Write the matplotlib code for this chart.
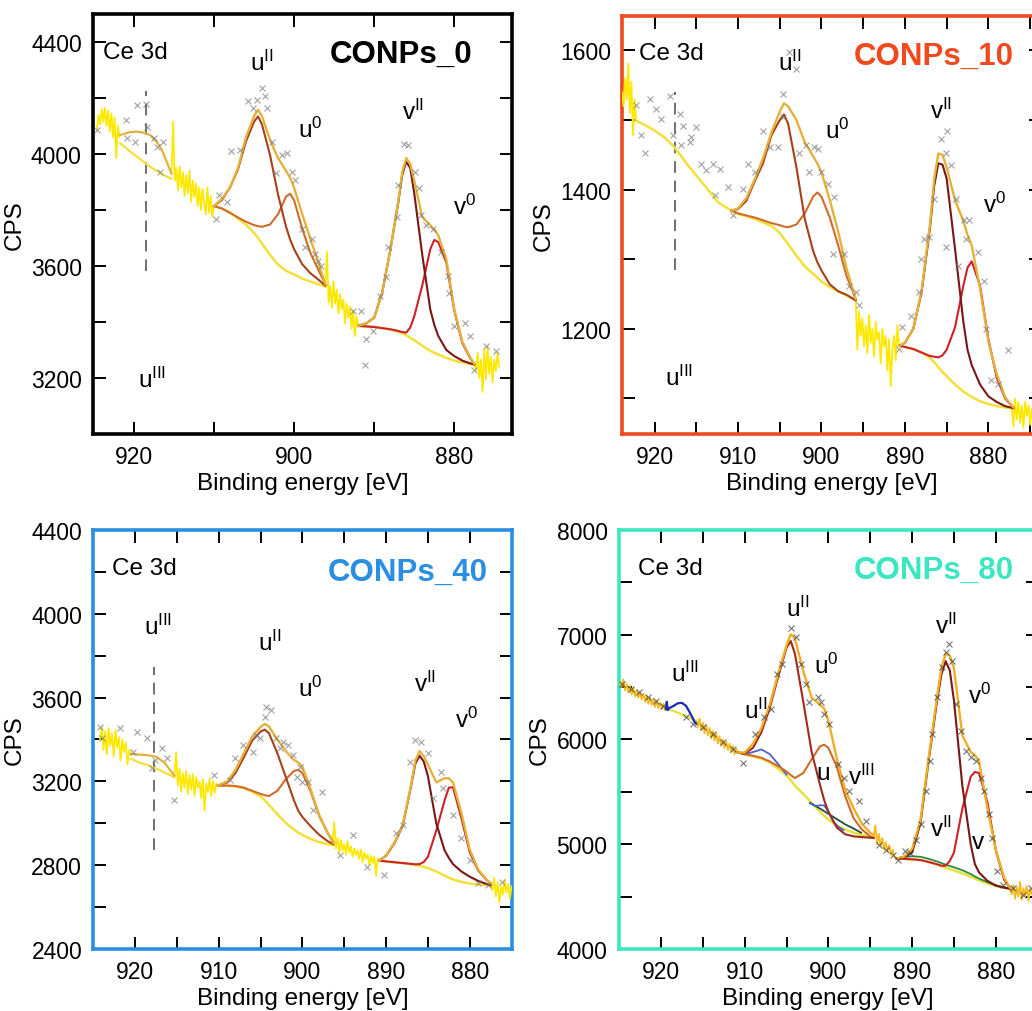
import matplotlib
matplotlib.use('Agg')
import matplotlib.pyplot as plt
from matplotlib.ticker import MultipleLocator
import numpy as np

plt.rcParams['font.family'] = 'Liberation Sans'
plt.rcParams['mathtext.fontset'] = 'custom'
plt.rcParams['mathtext.rm'] = 'Liberation Sans'
plt.rcParams['mathtext.it'] = 'Liberation Sans:italic'
plt.rcParams['mathtext.bf'] = 'Liberation Sans:bold'

# ---------------- CONPs_0 ----------------
p0_rawA = [4090, 4140, 4105, 4160, 4115, 4165, 4100, 4155, 4080, 4145, 4060, 4130, 3985, 4100, 4062]
p0_rawB = [3930, 4115, 3905, 3950, 3870, 3955, 3880, 3935, 3850, 3925, 3860, 3940, 3830, 3905,
           3845, 3895, 3815, 3880, 3800, 3875, 3825, 3785, 3880, 3790, 3850, 3775, 3814]
p0_rawC = [3527, 3650, 3470, 3530, 3450, 3545, 3465, 3515, 3430, 3500, 3445, 3480, 3395, 3465,
           3415, 3455, 3375, 3440, 3350, 3420, 3386]
p0_rawD = [3248, 3225, 3290, 3200, 3265, 3150, 3300, 3195, 3310, 3215, 3275, 3185, 3265, 3225, 3290, 3240]
p0_raw_lims = [(924.6, 921.8), (915.3, 910.0), (896.1, 892.0), (877.5, 874.4)]

p0_e3 = [921.7, 920.5, 919.6, 918.8, 918.0, 917.2, 916.5, 915.8, 915.3]
p0_env3 = [4068, 4078, 4080, 4076, 4068, 4045, 4015, 3965, 3930]
p0_bg3 = [4038, 4010, 3990, 3972, 3955, 3940, 3928, 3918, 3912]

p0_eu = [910, 909, 908, 907, 906, 905, 904.5, 904, 903, 902, 901, 900.5, 900, 899, 898, 897, 896.1]
p0_bgu = [3814, 3805, 3790, 3770, 3747, 3718, 3700, 3680, 3640, 3605, 3583, 3576, 3570, 3555, 3545, 3535, 3527]
p0_u2 = [3814, 3836, 3880, 3945, 4045, 4115, 4134, 4105, 3996, 3855, 3740, 3695, 3660, 3607, 3575, 3552, 3530]
p0_u0 = [3814, 3805, 3790, 3773, 3758, 3746, 3742, 3740, 3748, 3785, 3848, 3858, 3835, 3735, 3649, 3588, 3535]
p0_envu = [3814, 3840, 3880, 3950, 4060, 4135, 4158, 4135, 4050, 3985, 3940, 3915, 3880, 3787, 3700, 3615, 3535]

p0_ev = [892, 891, 890, 889, 888, 887, 886.5, 886, 885.5, 885, 884, 883, 882.5, 882, 881, 880, 879, 878, 877.5]
p0_bgv = [3386, 3384, 3382, 3378, 3373, 3365, 3360, 3353, 3343, 3335, 3315, 3297, 3290, 3284, 3272, 3262, 3255, 3250, 3248]
p0_v2 = [3386, 3395, 3415, 3505, 3655, 3825, 3925, 3972, 3950, 3860, 3640, 3445, 3390, 3350, 3300, 3278, 3262, 3252, 3248]
p0_v0 = [3386, 3384, 3382, 3378, 3374, 3368, 3364, 3362, 3380, 3420, 3530, 3660, 3693, 3685, 3613, 3440, 3325, 3270, 3250]
p0_envv = [3386, 3395, 3415, 3505, 3655, 3830, 3935, 3985, 3965, 3905, 3775, 3745, 3730, 3710, 3625, 3445, 3330, 3272, 3250]

p0_mx = [924.6, 921.0, 919.6, 918.5, 918.3, 920.8, 919.8, 917.5, 917.1, 916.3, 916.7, 909.7, 909.4, 908.4,
         907.9, 906.7, 905.7, 905.1, 904.6, 904.0, 903.6, 903.4, 902.8, 902.2, 901.5, 900.9, 900.3, 899.9,
         899.05, 898.6, 897.8, 897.4, 897.0, 896.6, 892.6, 891.6, 891.0, 891.2, 890.1, 889.3, 888.5, 888.3,
         887.2, 887.0, 886.3, 885.8, 884.9, 884.4, 884.1, 883.5, 882.7, 881.6, 880.8, 880.6, 880.0, 878.7,
         878.1, 877.5, 876.0, 874.8]
p0_my = [4086, 4122, 4176, 4178, 4098, 4056, 4044, 4056, 4026, 4042, 3937, 3769, 3853, 3829, 4011, 4014,
         4190, 4164, 4194, 4236, 4206, 4164, 4044, 3931, 3996, 4002, 3937, 3907, 3733, 3667, 3697, 3643,
         3619, 3601, 3440, 3440, 3338, 3248, 3368, 3493, 3559, 3667, 3775, 3889, 4036, 4032, 3937, 3877,
         3781, 3745, 3733, 3649, 3565, 3505, 3386, 3398, 3350, 3230, 3314, 3296]
p0_dash = (918.5, 3583, 4225)

# ---------------- CONPs_10 ----------------
p1_rawA = [1540, 1520, 1560, 1530, 1581, 1510, 1555, 1478, 1530, 1499]
p1_rawC = [1241, 1170, 1225, 1190, 1215, 1175, 1205, 1165, 1220, 1180, 1200, 1160, 1210, 1185,
           1195, 1150, 1200, 1175, 1190, 1140, 1185, 1118, 1170, 1190, 1155, 1205, 1176]
p1_rawD = [1087, 1060, 1100, 1070, 1095, 1065, 1090, 1058, 1095, 1075, 1090, 1062, 1085, 1070, 1095, 1068, 1080]
p1_raw_lims = [(923.9, 922.2), (895.9, 890.7), (877.2, 874.0)]

p1_e3 = [922.2, 921, 920, 918.8, 917.6, 916, 914, 912.4, 910.8]
p1_bg3 = [1499, 1492, 1485, 1475, 1461, 1435, 1406, 1382, 1370]

p1_eu = [910.8, 910, 909, 908, 907, 906, 905, 904.5, 904, 903, 902, 901, 900.5, 900, 899, 898, 897, 895.9]
p1_bgu = [1370, 1365, 1362, 1358, 1353, 1348, 1338, 1330, 1322, 1305, 1290, 1279, 1274, 1268, 1260, 1254, 1248, 1241]
p1_u2 = [1370, 1372, 1384, 1412, 1438, 1478, 1500, 1508, 1495, 1432, 1358, 1312, 1296, 1284, 1264, 1254, 1249, 1241]
p1_u0 = [1370, 1366, 1363, 1360, 1356, 1352, 1349, 1347, 1346, 1350, 1366, 1390, 1396, 1390, 1360, 1320, 1276, 1243]
p1_envu = [1370, 1373, 1388, 1415, 1445, 1482, 1512, 1524, 1520, 1500, 1468, 1448, 1438, 1425, 1385, 1340, 1287, 1243]

p1_ev = [890.6, 890, 889, 888, 887, 886.5, 886, 885.5, 885, 884, 883, 882.5, 882, 881, 880, 879, 878, 877]
p1_bgv = [1176, 1174, 1171, 1166, 1158, 1152, 1145, 1138, 1132, 1120, 1110, 1106, 1102, 1096, 1092, 1089, 1087, 1086]
p1_v2 = [1176, 1180, 1200, 1253, 1345, 1405, 1438, 1436, 1416, 1315, 1210, 1170, 1148, 1120, 1103, 1095, 1089, 1086]
p1_v0 = [1176, 1174, 1171, 1166, 1161, 1160, 1159, 1162, 1170, 1202, 1262, 1288, 1297, 1262, 1185, 1130, 1100, 1087]
p1_envv = [1176, 1180, 1200, 1255, 1350, 1415, 1452, 1450, 1432, 1385, 1355, 1335, 1320, 1258, 1182, 1135, 1102, 1087]

p1_mx = [922.2, 921.6, 920.6, 921.2, 919.8, 919.2, 918.2, 917.8, 917.0, 916.6, 915.8, 915.6, 915.0, 916.8,
         914.4, 913.8, 913.0, 912.8, 912.2, 911.2, 910.6, 909.4, 908.8, 908.0, 907.0, 906.2, 905.2, 904.6,
         904.6, 903.9, 903.05, 902.65, 901.85, 901.45, 900.85, 900.45, 900.05, 899.25, 898.45, 898.65, 897.3,
         896.7, 895.9, 895.5, 890.7, 890.3, 889.3, 888.3, 888.1, 887.7, 887.1, 886.5, 885.7, 884.9, 885.1,
         884.5, 885.1, 883.9, 883.7, 882.9, 882.3, 882.7, 881.3, 880.5, 880.3, 879.7, 878.9, 877.7]
p1_my = [1521, 1478, 1531, 1452, 1516, 1502, 1535, 1478, 1509, 1492, 1468, 1475, 1490, 1464, 1437, 1428,
         1437, 1392, 1430, 1404, 1363, 1401, 1437, 1425, 1485, 1461, 1461, 1538, 1504, 1598, 1574, 1452,
         1464, 1425, 1461, 1459, 1425, 1408, 1389, 1308, 1308, 1262, 1253, 1234, 1171, 1202, 1219, 1253,
         1301, 1329, 1332, 1387, 1473, 1485, 1452, 1435, 1317, 1387, 1291, 1356, 1356, 1329, 1310, 1269,
         1200, 1126, 1121, 1169]
p1_dash = (917.5, 1284, 1540)

# ---------------- CONPs_40 ----------------
p2_rawA = [3400, 3460, 3350, 3440, 3330, 3455, 3370, 3430, 3320, 3445, 3360, 3410, 3300, 3400, 3340,
           3385, 3280, 3350, 3331]
p2_rawB = [3227, 3339, 3180, 3260, 3150, 3240, 3170, 3250, 3140, 3230, 3160, 3235, 3130, 3220, 3170,
           3200, 3120, 3210, 3060, 3190, 3150, 3215, 3130, 3200, 3145, 3190, 3180]
p2_rawC = [2909, 3005, 2880, 2930, 2860, 2920, 2870, 2900, 2850, 2915, 2860, 2890, 2840, 2880, 2850,
           2870, 2830, 2875, 2815, 2860, 2830, 2850, 2800, 2845, 2810, 2840, 2750, 2830, 2822]
p2_rawD = [2706, 2680, 2740, 2650, 2720, 2625, 2700, 2660, 2730, 2670, 2710, 2640, 2700]
p2_raw_lims = [(924.2, 920.5), (915.3, 910.1), (896.4, 890.8), (877.5, 875.0)]

p2_e3 = [920.5, 919.5, 918.5, 917.5, 916.5, 915.3]
p2_env3 = [3331, 3328, 3325, 3318, 3290, 3227]
p2_bg3 = [3308, 3290, 3278, 3262, 3242, 3220]

p2_eu = [910.1, 909, 908, 907, 906, 905, 904.5, 904, 903, 902, 901, 900.5, 900, 899, 898, 897, 896.3]
p2_bgu = [3180, 3179, 3176, 3167, 3150, 3128, 3110, 3088, 3043, 3002, 2970, 2955, 2944, 2925, 2910, 2900, 2895]
p2_u2 = [3180, 3195, 3240, 3315, 3395, 3438, 3447, 3430, 3335, 3222, 3108, 3060, 3030, 2985, 2945, 2915, 2900]
p2_u0 = [3180, 3180, 3178, 3170, 3155, 3140, 3134, 3130, 3155, 3210, 3250, 3255, 3240, 3150, 3035, 2955, 2910]
p2_envu = [3180, 3200, 3255, 3335, 3415, 3460, 3474, 3462, 3400, 3345, 3302, 3290, 3270, 3160, 3040, 2955, 2905]

p2_ev = [890.8, 890, 889, 888, 887, 886.5, 886, 885.5, 885, 884, 883, 882.5, 882, 881, 880, 879, 878, 877.5]
p2_bgv = [2822, 2818, 2814, 2810, 2805, 2801, 2797, 2792, 2786, 2770, 2750, 2740, 2732, 2720, 2712, 2708, 2706, 2705]
p2_v2 = [2822, 2845, 2905, 2990, 3180, 3285, 3322, 3295, 3225, 3000, 2870, 2835, 2805, 2770, 2745, 2725, 2710, 2705]
p2_v0 = [2822, 2818, 2814, 2810, 2806, 2804, 2805, 2815, 2840, 2965, 3110, 3170, 3172, 3025, 2862, 2775, 2730, 2712]
p2_envv = [2822, 2847, 2908, 2995, 3185, 3298, 3345, 3320, 3280, 3195, 3215, 3215, 3195, 3050, 2875, 2780, 2732, 2712]

p2_mx = [924.2, 924.0, 921.8, 920.2, 919.8, 918.6, 918.0, 917.6, 916.8, 916.2, 915.4, 910.6, 908.6, 908.1,
         907.1, 905.9, 905.5, 905.1, 904.5, 904.3, 903.7, 903.1, 902.7, 902.3, 901.7, 901.1, 900.7, 900.3,
         900.1, 899.3, 898.7, 897.7, 895.5, 893.9, 892.3, 890.3, 888.8, 888.0, 887.2, 886.6, 885.8, 885.0,
         884.4, 883.4, 883.2, 882.0, 881.0, 880.0, 879.0, 877.8, 876.2]
p2_my = [3461, 3406, 3453, 3342, 3437, 3406, 3262, 3302, 3358, 3310, 3111, 3231, 3207, 3310, 3374, 3342,
         3422, 3406, 3509, 3557, 3541, 3406, 3358, 3390, 3374, 3326, 3223, 3270, 3199, 3199, 3064, 3151,
         2849, 2944, 2793, 2753, 2952, 2992, 3294, 3398, 3390, 3334, 3119, 3247, 3167, 3040, 2928, 2825,
         2714, 2706, 2722]
p2_dash = (917.8, 2873, 3748)

# ---------------- CONPs_80 ----------------
p3_rawA = [6540, 6500, 6575, 6470, 6530, 6450, 6510, 6430, 6495, 6410, 6470, 6400, 6450, 6380, 6440,
           6360, 6420, 6340, 6400, 6330, 6390, 6310, 6370, 6300, 6350, 6290, 6340, 6280, 6300]
p3_rawB = [6180, 6120, 6200, 6090, 6160, 6060, 6140, 6040, 6110, 6010, 6080, 5990, 6060, 5960, 6030,
           5940, 6000, 5920, 5980, 5900, 5960, 5880, 5940, 5860, 5910, 5876]
p3_rawC = [5071, 5180, 5000, 5100, 4980, 5060, 4950, 5020, 4930, 4990, 4900, 4950, 4880, 4863]
p3_rawD = [4575, 4520, 4610, 4480, 4590, 4500, 4640, 4470, 4580, 4510, 4600, 4460, 4570, 4520, 4610,
           4490, 4560, 4530, 4590, 4540]
p3_raw_lims = [(924.9, 919.3), (915.8, 910.8), (894.6, 891.9), (878.3, 874.5)]

p3_e3 = [919.4, 919.3, 919.2, 919.0, 918.5, 918.0, 917.5, 917.0, 916.5, 916.0, 915.8]
p3_u3 = [6290, 6360, 6280, 6300, 6320, 6345, 6350, 6320, 6250, 6170, 6150]
p3_e3bg = [919.4, 917.5, 915.8]
p3_bg3 = [6300, 6240, 6180]

p3_eu = [910.8, 910, 909, 908, 907, 906, 905, 904.5, 904, 903, 902, 901, 900.5, 900, 899, 898, 897, 896, 895, 894.6]
p3_bgu = [5876, 5855, 5838, 5818, 5780, 5720, 5655, 5610, 5560, 5480, 5395, 5310, 5270, 5235, 5180, 5140, 5110, 5090, 5070, 5060]
p3_u2 = [5876, 5865, 5920, 6070, 6301, 6600, 6876, 6940, 6820, 6360, 5880, 5566, 5420, 5310, 5160, 5095, 5075, 5068, 5062, 5060]
p3_u0 = [5876, 5860, 5845, 5825, 5790, 5745, 5694, 5660, 5632, 5680, 5810, 5935, 5950, 5920, 5740, 5460, 5250, 5140, 5075, 5060]
p3_envu = [5876, 5875, 5960, 6110, 6333, 6630, 6900, 7004, 6965, 6652, 6400, 6333, 6295, 6180, 5821, 5520, 5345, 5195, 5110, 5087]
p3_eb1 = [910.8, 910, 909, 908, 907, 906, 905]
p3_b1 = [5876, 5860, 5880, 5905, 5860, 5765, 5665]
p3_eb2 = [902.2, 901.5, 901, 900.5, 900, 899.4, 898.8, 898.2]
p3_b2 = [5390, 5365, 5372, 5370, 5310, 5214, 5165, 5135]
p3_eg1 = [902.2, 901, 900, 899, 898, 897, 896.1]
p3_g1 = [5395, 5340, 5290, 5240, 5190, 5150, 5110]

p3_ev = [891.9, 891, 890, 889, 888, 887, 886.5, 886, 885.5, 885, 884, 883, 882.5, 882, 881, 880, 879, 878.3]
p3_bgv = [4863, 4860, 4856, 4849, 4830, 4805, 4790, 4775, 4762, 4750, 4722, 4690, 4672, 4655, 4625, 4602, 4585, 4575]
p3_gv = [4863, 4878, 4885, 4880, 4860, 4835, 4820, 4805, 4792, 4780, 4752, 4715, 4692, 4672, 4638, 4608, 4588, 4575]
p3_v2 = [4863, 4875, 4920, 5200, 5810, 6380, 6620, 6748, 6660, 6370, 5560, 5000, 4810, 4730, 4650, 4605, 4585, 4575]
p3_v0 = [4863, 4860, 4856, 4849, 4830, 4808, 4795, 4795, 4840, 4920, 5340, 5645, 5690, 5680, 5400, 4940, 4660, 4582]
p3_envv = [4863, 4880, 4955, 5230, 5840, 6420, 6680, 6820, 6800, 6680, 6040, 5880, 5850, 5790, 5340, 4945, 4680, 4582]

p3_mx = [924.6, 923.6, 922.6, 921.6, 920.6, 919.8, 917.0, 916.2, 915.0, 913.8, 912.6, 911.4, 910.2, 908.8,
         907.7, 906.9, 906.1, 905.5, 904.5, 903.9, 903.3, 902.7, 902.3, 901.3, 900.9, 900.5, 899.9, 898.9,
         898.1, 897.5, 896.3, 895.5, 893.9, 893.1, 892.3, 891.7, 890.9, 890.3, 889.5, 888.9, 888.3, 887.9,
         887.6, 887.0, 886.4, 886.0, 885.6, 885.2, 884.8, 884.2, 883.6, 883.0, 882.4, 881.8, 881.4, 880.8,
         880.4, 879.8, 879.2, 878.0, 876.8, 875.8]
p3_my = [6531, 6483, 6451, 6403, 6371, 6323, 6211, 6147, 6115, 6051, 5972, 5908, 5780, 6051, 6211, 6291,
         6626, 6722, 7067, 6978, 6722, 6531, 6355, 6403, 6355, 6243, 6147, 5764, 5636, 5508, 5412, 5221,
         4997, 4949, 4901, 4853, 4933, 4917, 5045, 5189, 5508, 5796, 6051, 6403, 6690, 6834, 6914, 6754,
         6339, 6083, 5892, 5828, 5796, 5636, 5508, 5285, 5061, 4741, 4614, 4582, 4518, 4582]

# colours
YEL = '#FFE800'
BGC = '#F3E03A'
ENV = '#E4B23C'
U2C = '#A8401C'
U0C = '#D06C2A'
V2C = '#7A1616'
V0C = '#CC2229'
MKC = '#7A7A7A'

panels = [
    dict(pos=[0.0901, 0.5702, 0.406, 0.415], xlim=(925.1, 872.8), ylim=(3000, 4500),
         xmaj=20, xmin=10, ymaj=400, ymin=200, frame='black', name='CONPs_0', name_pos=(0.905, 0.905),
         raw=[p0_rawA, p0_rawB, p0_rawC, p0_rawD], lims=p0_raw_lims, rawc=YEL,
         mx=p0_mx, my=p0_my, mkc=MKC, dash=p0_dash,
         curves=[(p0_e3, p0_bg3, BGC, 1.6), (p0_e3, p0_env3, ENV, 1.6),
                 (p0_eu, p0_bgu, BGC, 1.8), (p0_eu, p0_u0, U0C, 1.5), (p0_eu, p0_u2, U2C, 1.5),
                 (p0_eu, p0_envu, ENV, 1.7),
                 (p0_ev, p0_bgv, BGC, 1.8), (p0_ev, p0_v0, V0C, 1.5), (p0_ev, p0_v2, V2C, 1.5),
                 (p0_ev, p0_envv, ENV, 1.7)],
         labels=[(0.024, 0.91, 'Ce 3d'), (0.403, 0.886, r'u$^{\mathrm{II}}$'),
                 (0.518, 0.726, r'u$^{0}$'), (0.764, 0.769, r'v$^{\mathrm{II}}$'),
                 (0.888, 0.543, r'v$^{0}$'), (0.141, 0.131, r'u$^{\mathrm{III}}$')]),
    dict(pos=[0.6027, 0.5702, 0.406, 0.4133], xlim=(923.9, 873.7), ylim=(1049, 1650),
         xmaj=10, xmin=5, ymaj=200, ymin=100, frame='#EE4A1E', name='CONPs_10', name_pos=(0.936, 0.904),
         raw=[p1_rawA, p1_rawC, p1_rawD], lims=p1_raw_lims, rawc=YEL,
         mx=p1_mx, my=p1_my, mkc=MKC, dash=p1_dash,
         curves=[(p1_e3, p1_bg3, BGC, 1.8),
                 (p1_eu, p1_bgu, BGC, 1.8), (p1_eu, p1_u0, U0C, 1.5), (p1_eu, p1_u2, U2C, 1.5),
                 (p1_eu, p1_envu, ENV, 1.7),
                 (p1_ev, p1_bgv, BGC, 1.8), (p1_ev, p1_v0, V0C, 1.5), (p1_ev, p1_v2, V2C, 1.5),
                 (p1_ev, p1_envv, ENV, 1.7)],
         labels=[(0.041, 0.912, 'Ce 3d'), (0.40, 0.889, r'u$^{\mathrm{II}}$'),
                 (0.514, 0.725, r'u$^{0}$'), (0.761, 0.773, r'v$^{\mathrm{II}}$'),
                 (0.888, 0.55, r'v$^{0}$'), (0.137, 0.136, r'u$^{\mathrm{III}}$')]),
    dict(pos=[0.0904, 0.0613, 0.4053, 0.414], xlim=(925.0, 875.0), ylim=(2400, 4400),
         xmaj=10, xmin=5, ymaj=400, ymin=200, frame='#2A8EE2', name='CONPs_40', name_pos=(0.942, 0.9),
         raw=[p2_rawA, p2_rawB, p2_rawC, p2_rawD], lims=p2_raw_lims, rawc=YEL,
         mx=p2_mx, my=p2_my, mkc=MKC, dash=p2_dash,
         curves=[(p2_e3, p2_bg3, BGC, 1.6), (p2_e3, p2_env3, ENV, 1.6),
                 (p2_eu, p2_bgu, BGC, 1.8), (p2_eu, p2_u0, U0C, 1.5), (p2_eu, p2_u2, U2C, 1.5),
                 (p2_eu, p2_envu, ENV, 1.7),
                 (p2_ev, p2_bgv, BGC, 1.8), (p2_ev, p2_v0, V0C, 1.5), (p2_ev, p2_v2, V2C, 1.5),
                 (p2_ev, p2_envv, ENV, 1.7)],
         labels=[(0.044, 0.909, 'Ce 3d'), (0.155, 0.769, r'u$^{\mathrm{III}}$'),
                 (0.422, 0.733, r'u$^{\mathrm{II}}$'), (0.518, 0.622, r'u$^{0}$'),
                 (0.793, 0.634, r'v$^{\mathrm{II}}$'), (0.893, 0.547, r'v$^{0}$')]),
    dict(pos=[0.5995, 0.0613, 0.406, 0.414], xlim=(925.05, 875.0), ylim=(4000, 8000),
         xmaj=10, xmin=5, ymaj=1000, ymin=500, frame='#3CE6C0', name='CONPs_80', name_pos=(0.944, 0.905),
         raw=[p3_rawA, p3_rawB, p3_rawC, p3_rawD], lims=p3_raw_lims, rawc='#F4BA22',
         mx=p3_mx, my=p3_my, mkc='#3A3A3A', dash=None,
         curves=[(p3_e3bg, p3_bg3, '#E6E23C', 1.6), (p3_e3, p3_u3, '#1A2AB8', 1.6),
                 (p3_eu, p3_bgu, '#E6E23C', 1.8), (p3_eg1, p3_g1, '#1E4E3A', 1.3),
                 (p3_eb1, p3_b1, '#4A62D0', 1.3), (p3_eb2, p3_b2, '#4A62D0', 1.3),
                 (p3_eu, p3_u0, U0C, 1.5), (p3_eu, p3_u2, '#A02A1E', 1.5),
                 (p3_eu, p3_envu, '#EDAE28', 1.7),
                 (p3_ev, p3_bgv, '#E6E23C', 1.8), (p3_ev, p3_gv, '#2E8A3A', 1.3),
                 (p3_ev, p3_v0, V0C, 1.5), (p3_ev, p3_v2, V2C, 1.5),
                 (p3_ev, p3_envv, '#EDAE28', 1.7)],
         labels=[(0.045, 0.909, 'Ce 3d'), (0.157, 0.658, r'u$^{\mathrm{III}}$'),
                 (0.427, 0.813, r'u$^{\mathrm{II}}$'), (0.495, 0.678, r'u$^{0}$'),
                 (0.328, 0.570, r'u$^{\mathrm{II}}$'), (0.487, 0.419, 'u'),
                 (0.579, 0.411, r'v$^{\mathrm{III}}$'), (0.781, 0.773, r'v$^{\mathrm{II}}$'),
                 (0.861, 0.606, r'v$^{0}$'), (0.769, 0.288, r'v$^{\mathrm{II}}$'),
                 (0.857, 0.256, 'v')]),
]

fig = plt.figure(figsize=(10.32, 10.12), dpi=100)

for P in panels:
    ax = fig.add_axes(P['pos'])
    for vals, (e0, e1) in zip(P['raw'], P['lims']):
        ax.plot(np.linspace(e0, e1, len(vals)), vals, color=P['rawc'], lw=1.3, zorder=3)
    for ex, ey, c, lw in P['curves']:
        ax.plot(ex, ey, color=c, lw=lw, zorder=4)
    ax.plot(P['mx'], P['my'], 'x', color=P['mkc'], ms=4.5, mew=0.8, alpha=0.7, zorder=5)
    if P['dash'] is not None:
        e, y0, y1 = P['dash']
        ax.plot([e, e], [y0, y1], color='#707070', lw=1.4, ls=(0, (6, 4)), zorder=2)

    ax.set_xlim(*P['xlim'])
    ax.set_ylim(*P['ylim'])
    ax.xaxis.set_major_locator(MultipleLocator(P['xmaj']))
    ax.xaxis.set_minor_locator(MultipleLocator(P['xmin']))
    ax.yaxis.set_major_locator(MultipleLocator(P['ymaj']))
    ax.yaxis.set_minor_locator(MultipleLocator(P['ymin']))
    ax.tick_params(which='both', direction='in', top=True, right=True, length=9, width=1.4,
                   colors='black', labelsize=16.5, pad=8)
    for s in ax.spines.values():
        s.set_color(P['frame'])
        s.set_linewidth(2.6)
    ax.set_xlabel('Binding energy [eV]', fontsize=17.5, labelpad=3)
    ax.set_ylabel('CPS', fontsize=17.5, labelpad=4)

    for tx, ty, t in P['labels']:
        ha = 'left' if t == 'Ce 3d' else 'center'
        ax.text(tx, ty, t, transform=ax.transAxes, fontsize=17.5, ha=ha, va='center', zorder=6)
    ax.text(P['name_pos'][0], P['name_pos'][1], P['name'], transform=ax.transAxes,
            fontsize=22.5, fontweight='bold', color=P['frame'],
            ha='right', va='center', zorder=6)

fig.savefig('out.png', dpi=100)
